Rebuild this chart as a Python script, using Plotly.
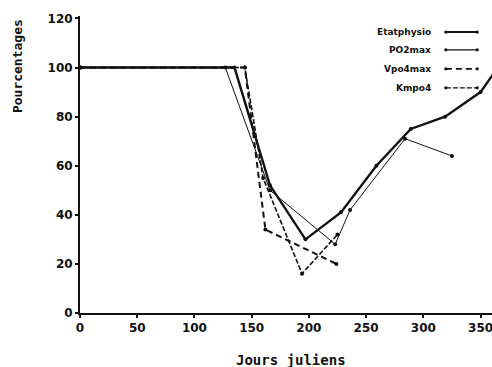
import plotly.graph_objects as go

# Data
etat_x = [0, 135, 166, 197, 228, 259, 289, 319, 350, 365]
etat_y = [100, 100, 52, 30, 41, 60, 75, 80, 90, 100]

po2_x = [0, 127, 166, 223, 236, 284, 325]
po2_y = [100, 100, 50, 28, 42, 71, 64]

vpo4_x = [0, 144, 162, 224]
vpo4_y = [100, 100, 34, 20]

kmpo4_x = [0, 144, 160, 194, 225]
kmpo4_y = [100, 100, 55, 16, 32]

series_names = ["Etatphysio", "PO2max", "Vpo4max", "Kmpo4"]
x_ticks = [0, 50, 100, 150, 200, 250, 300, 350]
y_ticks = [0, 20, 40, 60, 80, 100, 120]

MONO = "DejaVu Sans Mono"
SANS = "DejaVu Sans"
ink = "#111111"

styles = [
    dict(width=2.4, dash="solid"),
    dict(width=1.0, dash="solid"),
    dict(width=2.0, dash="6px,4px"),
    dict(width=1.6, dash="5px,2px"),
]
data = [(etat_x, etat_y), (po2_x, po2_y), (vpo4_x, vpo4_y), (kmpo4_x, kmpo4_y)]

fig = go.Figure()
for (xs, ys), st, nm in zip(data, styles, series_names):
    fig.add_trace(go.Scatter(
        x=xs, y=ys, mode="lines+markers", name=nm,
        line=dict(color=ink, width=st["width"], dash=st["dash"]),
        marker=dict(color=ink, size=4),
        showlegend=False, cliponaxis=True,
    ))

# Manual legend (text right-aligned, sample to the right)
rows_y = [0.946, 0.886, 0.822, 0.758]
lx0, lx1 = 0.888, 0.964
for nm, st, ry in zip(series_names, styles, rows_y):
    fig.add_annotation(
        x=0.857, y=ry, xref="paper", yref="paper", text=nm, showarrow=False,
        xanchor="right", yanchor="middle",
        font=dict(family=SANS, size=9, color=ink, weight="bold"),
    )
    fig.add_shape(type="line", xref="paper", yref="paper",
                  x0=lx0, x1=lx1, y0=ry, y1=ry,
                  line=dict(color=ink, width=max(1.4, st["width"] * 0.8), dash=st["dash"]))
    for ex in (lx0, lx1):
        fig.add_shape(type="circle", xref="paper", yref="paper",
                      x0=ex - 0.004, x1=ex + 0.004, y0=ry - 0.0055, y1=ry + 0.0055,
                      fillcolor=ink, line=dict(width=0))

fig.add_annotation(
    x=-0.150, y=0.832, xref="paper", yref="paper", text="Pourcentages",
    showarrow=False, textangle=-90, xanchor="center", yanchor="middle",
    font=dict(family=MONO, size=13, color=ink, weight="bold"),
)
fig.add_annotation(
    x=0.512, y=-0.158, xref="paper", yref="paper", text="Jours juliens",
    showarrow=False, xanchor="center", yanchor="middle",
    font=dict(family=MONO, size=14, color=ink, weight="bold"),
)

axis_common = dict(
    showgrid=False, zeroline=False, showline=True, linecolor=ink, linewidth=2,
    ticks="outside", ticklen=3, tickwidth=1.5, tickcolor=ink,
    tickfont=dict(family=SANS, size=12, color=ink, weight="bold"),
    ticklabeloverflow="allow",
)

fig.update_layout(
    width=492, height=367,
    margin=dict(l=80, r=0, t=16, b=54),
    paper_bgcolor="white", plot_bgcolor="white",
    font=dict(family=SANS, size=11, color=ink, weight="bold"),
    xaxis=dict(range=[0, 360], tickmode="array", tickvals=x_ticks,
               ticktext=[str(v) for v in x_ticks], **axis_common),
    yaxis=dict(range=[0, 121], tickmode="array", tickvals=y_ticks,
               ticktext=[str(v) for v in y_ticks], **axis_common),
)

fig.write_html("out.html")
